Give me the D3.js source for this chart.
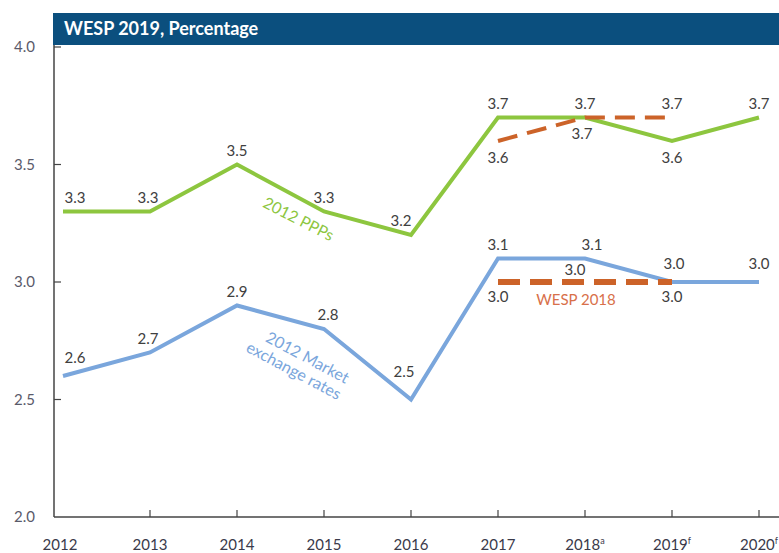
<!DOCTYPE html>
<html>
<head>
<meta charset="utf-8">
<script src="https://cdn.jsdelivr.net/npm/d3@7"></script>
<style>
  body { margin: 0; background: #fff; }
  svg { display: block; font-family: Lato, "Open Sans", sans-serif; }
</style>
</head>
<body>
<svg id="chart" width="779" height="553"></svg>
<script>
// data
const years = ["2012", "2013", "2014", "2015", "2016", "2017", "2018", "2019", "2020"]
const yearSup = ["", "", "", "", "", "", "a", "f", "f"]
const ppp = [3.3, 3.3, 3.5, 3.3, 3.2, 3.7, 3.7, 3.6, 3.7]
const market = [2.6, 2.7, 2.9, 2.8, 2.5, 3.1, 3.1, 3.0, 3.0]
const wespYears = ["2017", "2018", "2019"]
const wespPpp = [3.6, 3.7, 3.7]
const wespMarket = [3.0, 3.0, 3.0]
const yTicks = [2.0, 2.5, 3.0, 3.5, 4.0]

// label placement: dy from the point, dx nudges
const pppDy = [-14, -14, -14, -14, -14, -14, -14, 17, -14]
const pppDx = [12, -2, 0, 0, -10, 0, 0, 0, 0]
const marketDy = [-18, -14, -14, -14, -28, -14, -14, -18, -18]
const marketDx = [12, -2, 0, 4, -7, 0, 7, 2, 0]
const wespPppDy = [17, 16, -14]
const wespPppDx = [0, -3, 0]
const wespMarketDy = [15, -12, 15]
const wespMarketDx = [0, -10, 0]

const svg = d3.select("#chart")

const x = d3.scalePoint().domain(years).range([63, 759])
const y = d3.scaleLinear().domain([2, 4]).range([517, 47])

const green = "#8dc63f"
const blue = "#7aa6dc"
const orange = "#cc6329"
const labelColor = "#404040"

// header bar
svg.append("rect")
  .attr("x", 53).attr("y", 13).attr("width", 726).attr("height", 32)
  .attr("fill", "#0b4f7e")
svg.append("text")
  .attr("x", 64).attr("y", 35)
  .attr("fill", "#fff")
  .attr("font-size", "18px")
  .attr("font-weight", "bold")
  .text("WESP 2019, Percentage")

// axes
svg.append("line")
  .attr("x1", 54).attr("x2", 54).attr("y1", 45).attr("y2", y(2))
  .attr("stroke", "#444").attr("stroke-width", 1.5)
svg.append("line")
  .attr("x1", 54).attr("x2", 779).attr("y1", y(2)).attr("y2", y(2))
  .attr("stroke", "#444").attr("stroke-width", 1.5)

svg.selectAll(".ytick")
  .data(yTicks.filter(d => d > 2))
  .enter()
  .append("line")
    .attr("x1", 54).attr("x2", 61)
    .attr("y1", d => y(d)).attr("y2", d => y(d))
    .attr("stroke", "#444").attr("stroke-width", 1.2)

svg.selectAll(".ylabel")
  .data(yTicks)
  .enter()
  .append("text")
    .attr("x", 35).attr("y", d => y(d) + 5)
    .attr("text-anchor", "end")
    .attr("fill", "#5a5a6a")
    .attr("font-size", "15px")
    .text(d => d.toFixed(1))

svg.selectAll(".xtick")
  .data(years.slice(1))
  .enter()
  .append("line")
    .attr("x1", d => x(d)).attr("x2", d => x(d))
    .attr("y1", y(2)).attr("y2", y(2) - 7)
    .attr("stroke", "#444").attr("stroke-width", 1.2)

let xl = svg.selectAll(".xlabel")
  .data(years)
  .enter()
  .append("text")
    .attr("x", (d, i) => i == 0 ? x(d) - 3 : x(d))
    .attr("y", 550)
    .attr("text-anchor", "middle")
    .attr("fill", "#3a3a4a")
    .attr("font-size", "15px")
xl.append("tspan").text(d => d)
xl.append("tspan")
  .attr("font-size", "9px")
  .attr("dy", -6)
  .text((d, i) => yearSup[i])

// lines
const line = d3.line().x(d => x(d[0])).y(d => y(d[1]))

svg.append("path")
  .datum(years.map((d, i) => [d, ppp[i]]))
  .attr("d", line)
  .attr("fill", "none")
  .attr("stroke", green)
  .attr("stroke-width", 4)

svg.append("path")
  .datum(years.map((d, i) => [d, market[i]]))
  .attr("d", line)
  .attr("fill", "none")
  .attr("stroke", blue)
  .attr("stroke-width", 4)

svg.append("path")
  .datum(wespYears.map((d, i) => [d, wespPpp[i]]))
  .attr("d", line)
  .attr("fill", "none")
  .attr("stroke", orange)
  .attr("stroke-width", 4)
  .attr("stroke-dasharray", "20,10")

svg.append("path")
  .datum(wespYears.map((d, i) => [d, wespMarket[i]]))
  .attr("d", line)
  .attr("fill", "none")
  .attr("stroke", orange)
  .attr("stroke-width", 6)
  .attr("stroke-dasharray", "22,10")

// value labels
function labels(cls, yrs, vals, dx, dy) {
  svg.selectAll("." + cls)
    .data(vals)
    .enter()
    .append("text")
      .attr("x", (d, i) => x(yrs[i]) + dx[i])
      .attr("y", (d, i) => y(d) + dy[i] + 5)
      .attr("text-anchor", "middle")
      .attr("fill", labelColor)
      .attr("font-size", "15px")
      .text(d => d.toFixed(1))
}
labels("lp", years, ppp, pppDx, pppDy)
labels("lm", years, market, marketDx, marketDy)
labels("lwp", wespYears, wespPpp, wespPppDx, wespPppDy)
labels("lwm", wespYears, wespMarket, wespMarketDx, wespMarketDy)

// series names
svg.append("text")
  .attr("transform", "translate(296,224) rotate(27)")
  .attr("text-anchor", "middle")
  .attr("fill", green)
  .attr("font-size", "16px")
  .text("2012 PPPs")

let mk = svg.append("text")
  .attr("transform", "translate(303,366) rotate(28)")
  .attr("text-anchor", "middle")
  .attr("fill", blue)
  .attr("font-size", "16px")
mk.append("tspan").attr("x", 0).attr("dy", -4).text("2012 Market")
mk.append("tspan").attr("x", -6).attr("dy", 18).text("exchange rates")

svg.append("text")
  .attr("x", 576).attr("y", 305)
  .attr("text-anchor", "middle")
  .attr("fill", "#d8704a")
  .attr("font-size", "15px")
  .text("WESP 2018")
</script>
</body>
</html>
